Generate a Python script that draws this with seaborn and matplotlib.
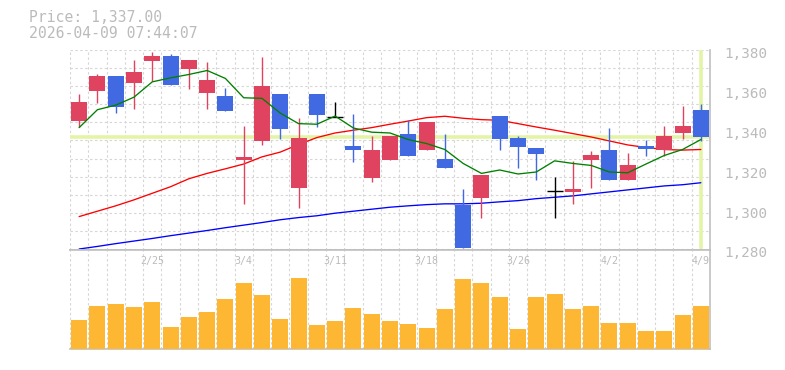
import numpy as np
import pandas as pd
import matplotlib
matplotlib.use("Agg")
import matplotlib.pyplot as plt
import seaborn as sns
from matplotlib.transforms import blended_transform_factory, ScaledTranslation

# ---------------- data ----------------
dates = ['2/18', '2/19', '2/20', '2/24', '2/25', '2/26', '2/27', '3/2', '3/3', '3/4',
         '3/5', '3/6', '3/9', '3/10', '3/11', '3/12', '3/13', '3/16', '3/17', '3/18',
         '3/19', '3/23', '3/24', '3/25', '3/26', '3/27', '3/30', '3/31', '4/1', '4/2',
         '4/3', '4/6', '4/7', '4/8', '4/9']
opens = [1345, 1360, 1367.5, 1364, 1375, 1377.5, 1371, 1359, 1357.5, 1325,
         1335, 1358.5, 1311, 1358.5, 1347, 1332.5, 1316, 1325, 1338.5, 1330,
         1325.5, 1302.5, 1306, 1347.5, 1336.5, 1331.5, 1309.5, 1309, 1325, 1330.5,
         1315, 1332.5, 1330, 1339, 1350.5]
closes = [1354.5, 1367.5, 1352, 1369.5, 1377.5, 1363, 1375.5, 1365.5, 1350, 1326.5,
          1362.5, 1341, 1336.5, 1348, 1347, 1330, 1330.5, 1337.5, 1327, 1344.5,
          1321, 1281, 1317.5, 1336, 1332, 1328, 1309.5, 1310.5, 1327.5, 1315,
          1322.5, 1331, 1337.5, 1342.5, 1337]
highs = [1358.5, 1368.5, 1367.5, 1375.5, 1379.5, 1378.5, 1375.5, 1374.5, 1361.5, 1342.5,
         1376.8, 1358.5, 1346.5, 1358.5, 1354.5, 1348.5, 1337.5, 1337.5, 1345.5, 1344.5,
         1338.5, 1310.5, 1317.5, 1347.5, 1337.5, 1331.5, 1316.5, 1324.5, 1329.5, 1341.5,
         1328.5, 1335.5, 1342.5, 1352.5, 1353.5]
lows = [1342, 1354, 1349, 1351, 1365, 1363, 1361, 1351, 1350, 1303,
        1333, 1336, 1301, 1342, 1347, 1324, 1314, 1325, 1327, 1330,
        1321, 1281, 1296, 1330, 1321, 1315, 1296, 1303, 1311, 1315,
        1315, 1327, 1327, 1336, 1335]
ma_short = [1341.5, 1350.5, 1352.8, 1356.8, 1364.5, 1366.5, 1368.2, 1370.2, 1366.2, 1356.5,
            1356.2, 1348.8, 1343.5, 1343.2, 1347.3, 1341.3, 1339.2, 1338.8, 1335.5, 1333.5,
            1330.5, 1323.5, 1318.5, 1320.2, 1318.2, 1319.2, 1324.8, 1323.5, 1322.5, 1319.2,
            1318.8, 1323.2, 1327.5, 1330.5, 1335.5]
ma_mid = [1296.8, 1299.5, 1302.2, 1305.2, 1308.5, 1311.8, 1315.8, 1318.5, 1320.8, 1323.2,
          1326.8, 1329.2, 1333.0, 1336.5, 1338.8, 1340.2, 1341.5, 1343.2, 1344.8, 1346.5,
          1347.2, 1346.2, 1345.5, 1345.2, 1343.5, 1341.8, 1340.2, 1338.5, 1336.8, 1334.8,
          1332.8, 1331.5, 1330.5, 1330.2, 1330.5]
ma_long = [1280.5, 1281.8, 1283.2, 1284.5, 1285.8, 1287.2, 1288.5, 1289.8, 1291.2, 1292.5,
           1293.8, 1295.2, 1296.3, 1297.2, 1298.5, 1299.5, 1300.5, 1301.5, 1302.2, 1302.8,
           1303.2, 1303.2, 1303.5, 1304.2, 1304.8, 1305.8, 1306.5, 1307.2, 1308.2, 1309.2,
           1310.2, 1311.2, 1312.2, 1312.8, 1313.8]
volumes = [29, 43, 45, 42, 47, 22, 32, 37, 50, 66,
           54, 30, 71, 24, 28, 41, 35, 28, 25, 21,
           40, 70, 66, 52, 20, 52, 55, 40, 43, 26,
           26, 18, 18, 34, 43]
price_ticks = [1280, 1300, 1320, 1340, 1360, 1380]
last_price = 1337.0
timestamp = '2026-04-09 07:44:07'

df = pd.DataFrame({'date': dates, 'open': opens, 'close': closes, 'high': highs,
                   'low': lows, 'ma_s': ma_short, 'ma_m': ma_mid, 'ma_l': ma_long,
                   'volume': volumes})
df['i'] = np.arange(len(df))

# ---------------- style ----------------
sns.set_theme(style='white')
plt.rcParams['font.family'] = ['DejaVu Sans Mono']

UP = '#e0435f'
DOWN = '#4169e1'
DOJI = '#000000'
VOLC = '#fdb733'
GRID = '#d6d6d6'
SPINE = '#c0c0c0'
TXT = '#bbbbbb'
CROSS = '#e3f4a6'

W, H = 785, 370
fig = plt.figure(figsize=(W / 100, H / 100), dpi=100)
axp = fig.add_axes([70 / W, 120 / H, 640 / W, 200 / H])
axv = fig.add_axes([70 / W, 21 / H, 640 / W, 99 / H])

n = len(df)
ylo, yhi = 1280.5, 1380.5
body_w = 0.875

for ax in (axp, axv):
    ax.set_xlim(-0.5, n - 0.5)
    ax.set_xticks(np.arange(-0.5, n, 1.0), minor=True)
    ax.set_facecolor('white')
    for s in ('left', 'top'):
        ax.spines[s].set_visible(False)
    for s in ('right', 'bottom'):
        ax.spines[s].set_color(SPINE)
        ax.spines[s].set_linewidth(1.2)
    ax.grid(False)
    ax.grid(which='minor', axis='x', color=GRID, linestyle=(0, (2.2, 2.2)), linewidth=0.8)
    ax.tick_params(which='both', length=0)

# ---- price panel ----
axp.set_ylim(ylo, yhi)
axp.set_yticks(np.linspace(ylo, yhi, 12), minor=True)
axp.grid(which='minor', axis='y', color=GRID, linestyle=(0, (2.2, 2.2)), linewidth=0.8)
axp.set_axisbelow(True)

# crosshair
axp.axhline(last_price, color=CROSS, lw=2.6, zorder=1)
axp.axvline(df['i'].iloc[-1], ymin=0.01, ymax=0.995, color=CROSS, lw=2.6, zorder=1)

# moving averages
sns.lineplot(data=df, x='i', y='ma_l', ax=axp, color='#0000ff', lw=0.95, zorder=2)
sns.lineplot(data=df, x='i', y='ma_m', ax=axp, color='#ff0000', lw=0.95, zorder=2)

# candles
colors = [UP if c > o else (DOWN if c < o else DOJI) for o, c in zip(df['open'], df['close'])]
axp.vlines(df['i'], df['low'], df['high'], colors=colors, lw=1.0, zorder=3)
bottoms = np.minimum(df['open'], df['close'])
heights = np.abs(df['close'] - df['open'])
axp.bar(df['i'], heights, bottom=bottoms, width=body_w, color=colors, linewidth=0, zorder=4)
doji = df[df['open'] == df['close']]
axp.hlines(doji['open'], doji['i'] - body_w / 2, doji['i'] + body_w / 2, colors=DOJI,
           lw=1.0, zorder=4)

sns.lineplot(data=df, x='i', y='ma_s', ax=axp, color='#008000', lw=0.95, zorder=5)

axp.set_xticks([])
axp.set_xlabel('')
axp.set_ylabel('')
axp.yaxis.tick_right()
axp.set_yticks(price_ticks)
axp.set_yticklabels([f'{v:,}' for v in price_ticks])
axp.tick_params(axis='y', which='major', length=0, pad=10, labelcolor=TXT, labelsize=10.3)
for lbl in axp.get_yticklabels():
    lbl.set_transform(lbl.get_transform() + ScaledTranslation(0, -2 / 100, fig.dpi_scale_trans))

# ---- volume panel ----
sns.barplot(data=df, x='i', y='volume', ax=axv, color=VOLC, saturation=1, width=body_w,
            errorbar=None, linewidth=0, zorder=3)
axv.set_xlim(-0.5, n - 0.5)
axv.set_ylim(-0.5, 98.5)
axv.spines['top'].set_visible(True)
axv.spines['top'].set_color(SPINE)
axv.spines['top'].set_linewidth(1.2)
axv.set_xticks([])
axv.set_yticks([])
axv.set_xticks(np.arange(-0.5, n, 1.0), minor=True)
axv.grid(which='minor', axis='x', color=GRID, linestyle=(0, (2.2, 2.2)), linewidth=0.8)
axv.set_axisbelow(True)
axv.set_xlabel('')
axv.set_ylabel('')

tr = blended_transform_factory(axv.transData, axv.transAxes)
for k in range(4, n, 5):
    axv.text(k, 0.885, dates[k], transform=tr, ha='center', va='center',
             fontsize=7.2, color=TXT, zorder=6)

# ---- header text ----
fig.text(29 / W, 1 - 17 / H, f'Price: {last_price:,.2f}', ha='left', va='center',
         fontsize=10.6, color=TXT)
fig.text(29 / W, 1 - 33 / H, timestamp, ha='left', va='center', fontsize=10.6, color=TXT)

fig.savefig('out.png', dpi=100, facecolor='white')
